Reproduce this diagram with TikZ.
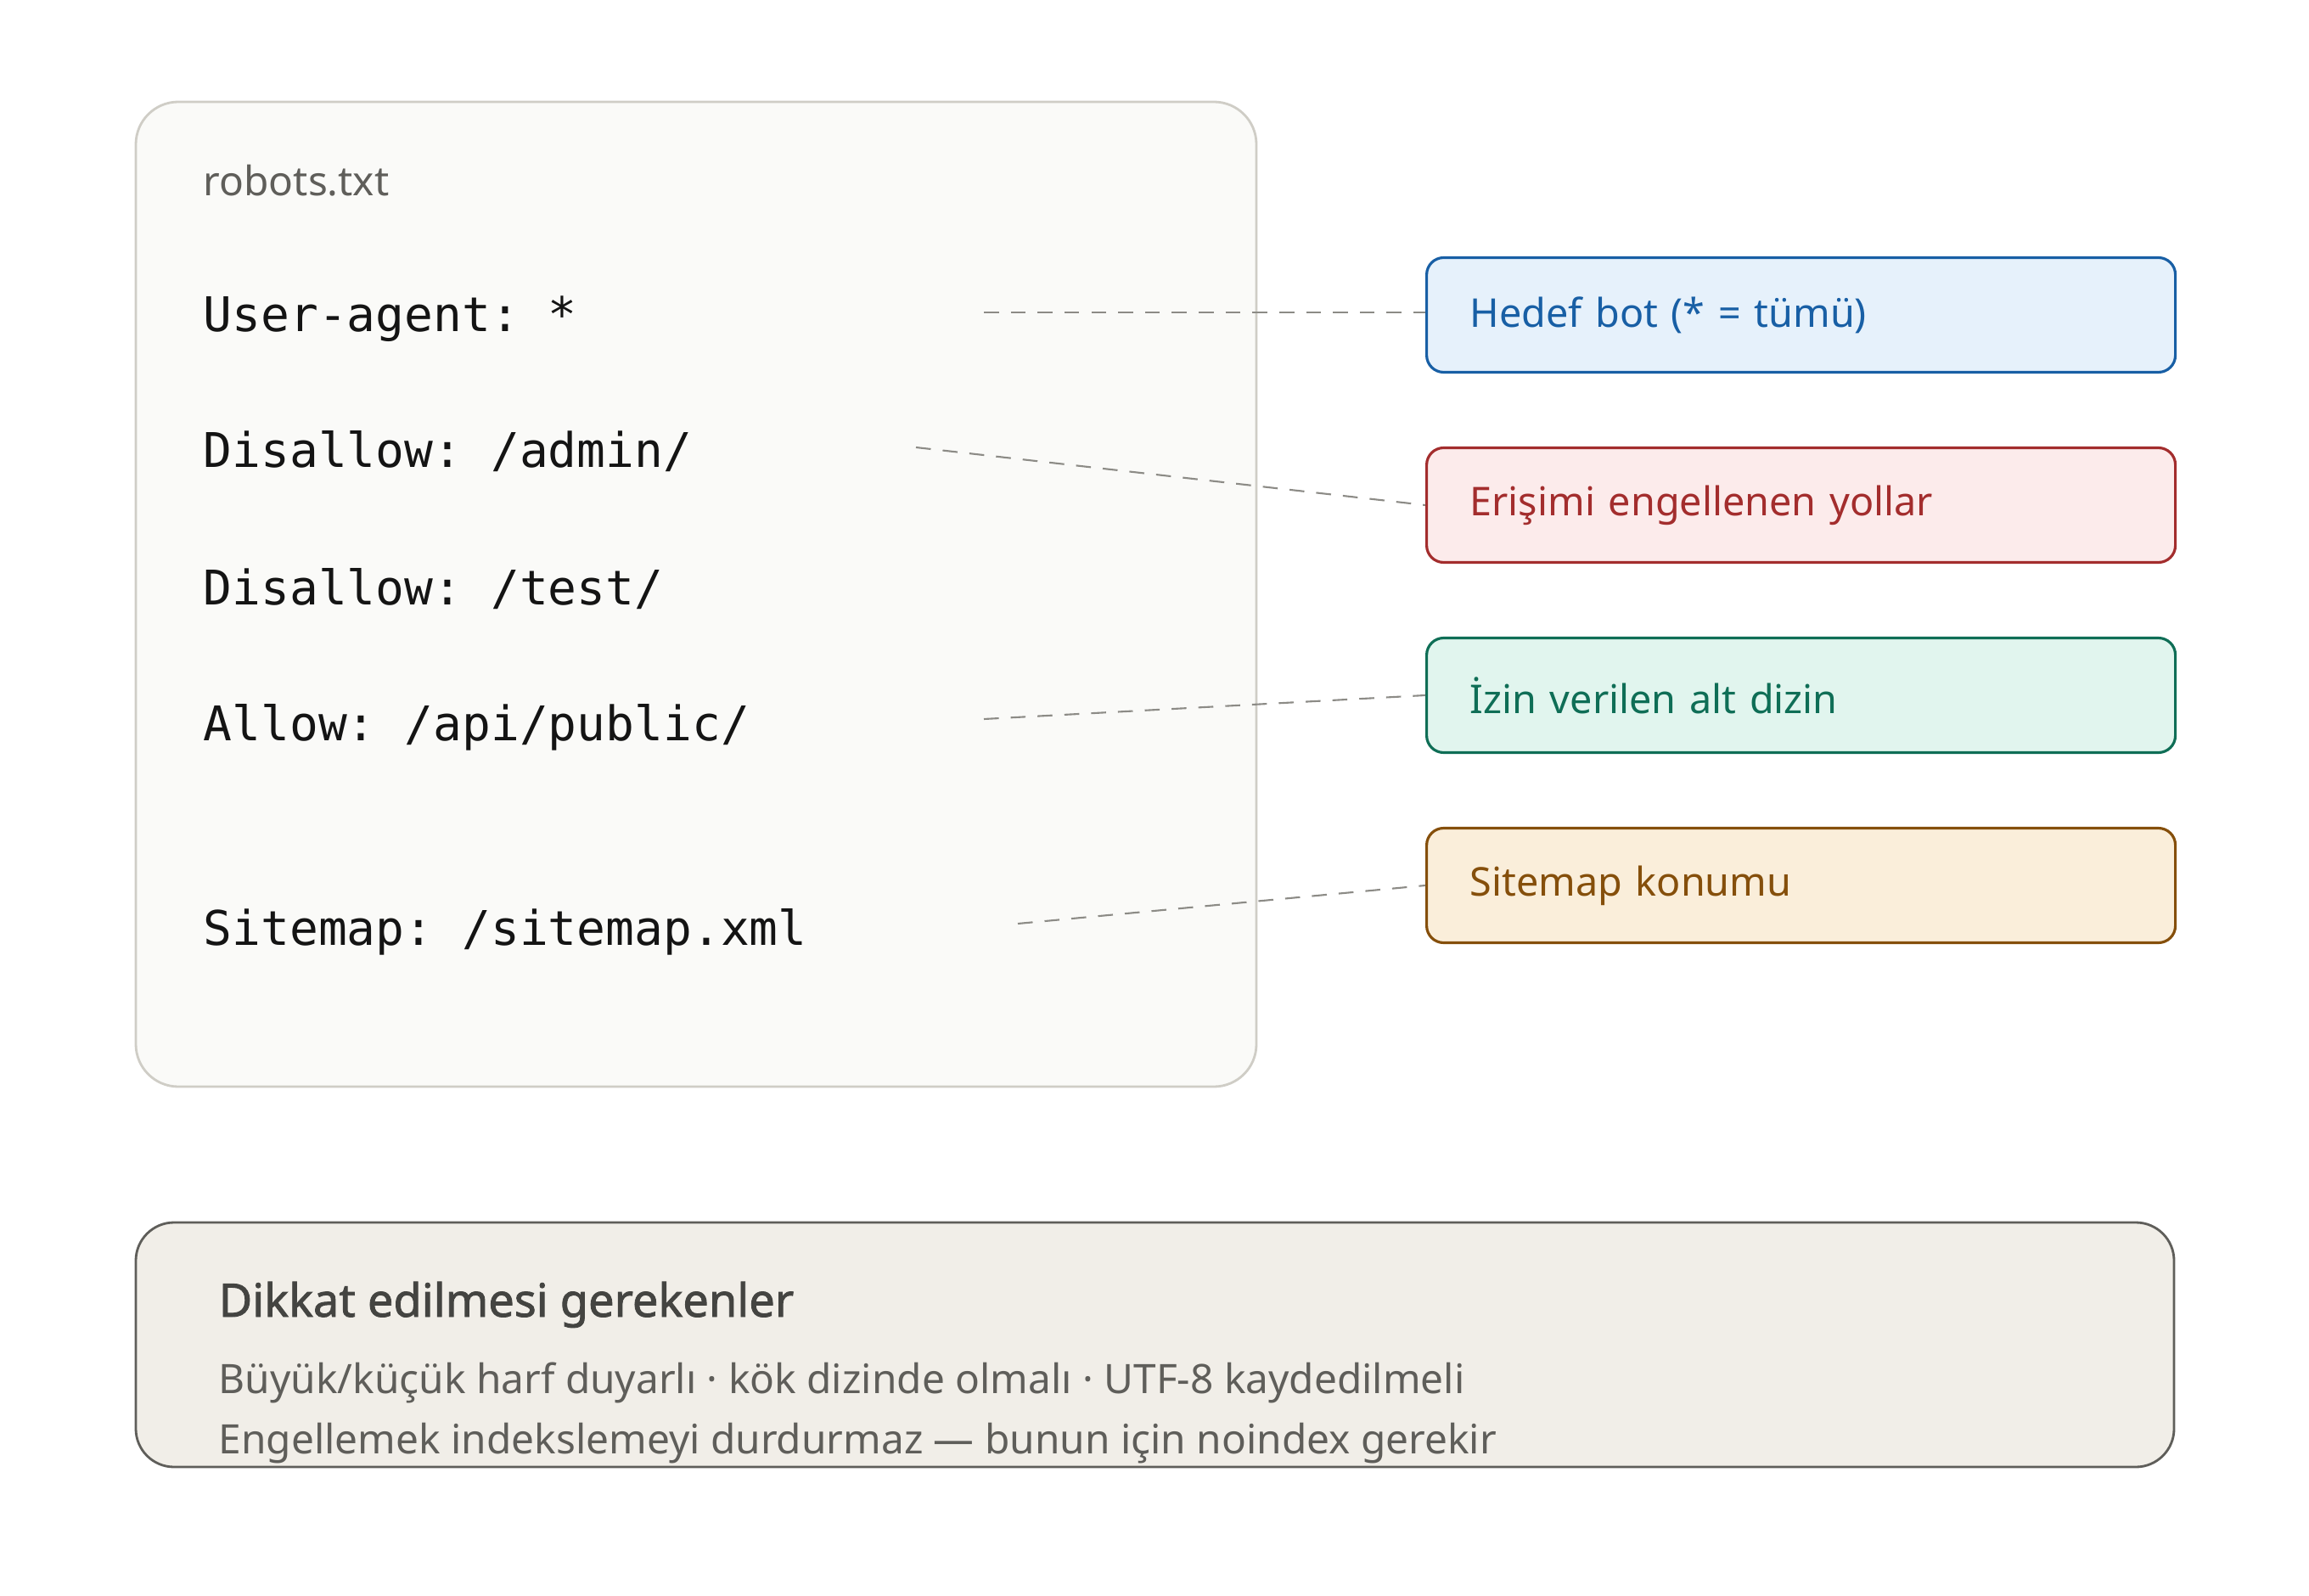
\documentclass[tikz,border=0pt]{standalone}
\usepackage{fontspec}
\setmainfont{Noto Sans}
\setmonofont{DejaVu Sans Mono}
\newfontfamily\headfont{Noto Sans}[FakeBold=1.6]
\usetikzlibrary{positioning}
\definecolor{panelfill}{HTML}{FAFAF8}
\definecolor{panelline}{HTML}{CFCDC6}
\definecolor{greyink}{HTML}{5F5E5A}
\definecolor{codeink}{HTML}{141414}
\definecolor{linkgrey}{HTML}{8C8B86}
\definecolor{noteline}{HTML}{5F5E5A}
\definecolor{notefill}{HTML}{F1EEE8}
\definecolor{titleink}{HTML}{444441}
\definecolor{lnblue}{HTML}{185FA5}
\definecolor{flblue}{HTML}{E6F1FB}
\definecolor{lnred}{HTML}{A32D2D}
\definecolor{flred}{HTML}{FCEBEB}
\definecolor{lngreen}{HTML}{0F6E56}
\definecolor{flgreen}{HTML}{E1F5EE}
\definecolor{lnamber}{HTML}{854F0B}
\definecolor{flamber}{HTML}{FAEEDA}
\tikzstyle{panel}=[draw=panelline,fill=panelfill,rounded corners=0.5cm,line width=0.8pt]
\tikzstyle{codeline}=[anchor=base west,inner sep=0pt,text=codeink,font=\ttfamily\fontsize{16}{19}\selectfont]
\tikzstyle{tag}=[anchor=west,rounded corners=0.2cm,minimum width=8.82cm,minimum height=1.35cm,inner xsep=0.51cm,text width=7.8cm,align=left,line width=0.9pt,font=\fontsize{13.3}{16}\selectfont]
\tikzstyle{note}=[anchor=base west,inner sep=0pt,text=greyink,font=\fontsize{13.6}{16}\selectfont]
\tikzstyle{link} = [draw=linkgrey,line width=0.6pt,dash pattern=on 5pt off 4pt]

\begin{document}
\begin{tikzpicture}
    \useasboundingbox (0,0) rectangle (27.2,-18.8);
    % First we draw the file panel and its lines
    \node[panel,minimum width=13.2cm,minimum height=11.6cm] (file) at (8.20,-7.00) {};
    \node[note] (fname) at (2.39,-2.31) {robots.txt};
    \node[codeline] (ua) at (2.39,-3.91) {User-agent: *};
    \node[codeline] (dis1) at (2.39,-5.51) {Disallow: /admin/};
    \node[codeline] (dis2) at (2.39,-7.12) {Disallow: /test/};
    \node[codeline] (allow) at (2.39,-8.72) {Allow: /api/public/};
    \node[codeline] (smap) at (2.39,-11.13) {Sitemap: /sitemap.xml};
    % Then the coloured tags on the right
    \foreach \pos/\name/\col/\txt in {{(16.79,-3.71)/hedef/blue/Hedef bot (* = tümü)}, {(16.79,-5.95)/engel/red/Erişimi engellenen yollar}, {(16.79,-8.19)/izin/green/İzin verilen alt dizin}, {(16.79,-10.43)/konum/amber/Sitemap konumu}}
        \node[tag,draw=ln\col,fill=fl\col,text=ln\col] (\name) at \pos {\txt};
    % Free ends of the dashed leaders
    \coordinate (cua) at (11.59,-3.68);
    \coordinate (cdis) at (10.79,-5.27);
    \coordinate (callow) at (11.59,-8.47);
    \coordinate (csmap) at (11.99,-10.88);
    \path[link] (cua) -- (cua -| hedef.west);
    \foreach \source/ \dest in {cdis/engel, callow/izin, csmap/konum}
        \path[link] (\source) -- (\dest.west);
    % Notes panel at the bottom
    \node[draw=noteline,fill=notefill,rounded corners=0.45cm,line width=0.8pt,minimum width=24.01cm,minimum height=2.88cm] (notes) at (13.605,-15.84) {};
    \node[note,text=titleink,font=\headfont\fontsize{15.4}{18}\selectfont] (ntitle) at (2.57,-15.51) {Dikkat edilmesi gerekenler};
    \node[note] (nline1) at (2.57,-16.41) {Büyük/küçük harf duyarlı · kök dizinde olmalı · UTF-8 kaydedilmeli};
    \node[note] (nline2) at (2.57,-17.12) {Engellemek indekslemeyi durdurmaz — bunun için noindex gerekir};
\end{tikzpicture}
\end{document}
